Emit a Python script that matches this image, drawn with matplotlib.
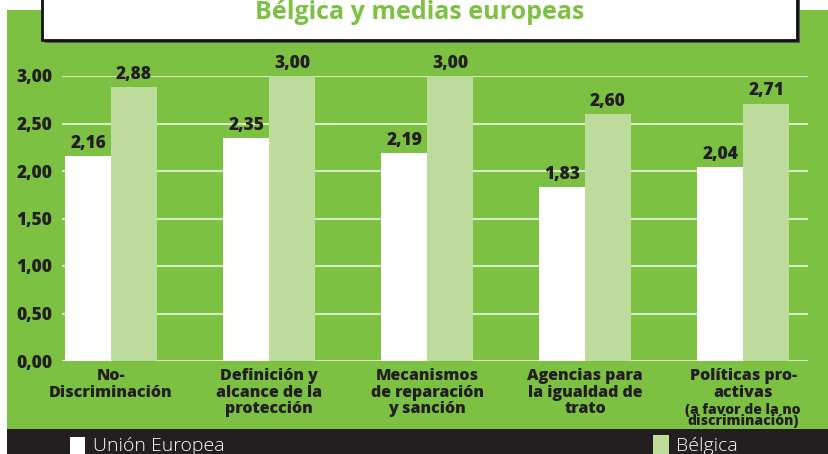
import numpy as np
import matplotlib.pyplot as plt
from matplotlib.patches import Rectangle

# datos
categorias = ["No-\nDiscriminación", "Definición y\nalcance de la\nprotección",
              "Mecanismos\nde reparación\ny sanción", "Agencias para\nla igualdad de\ntrato",
              "Políticas pro-\nactivas"]
nota_ultima = "(a favor de la no\ndiscriminación)"
union_europea = [2.16, 2.35, 2.19, 1.83, 2.04]
belgica = [2.88, 3.00, 3.00, 2.60, 2.71]
yticks = [0, 0.5, 1.0, 1.5, 2.0, 2.5, 3.0]

verde = "#7cc142"
verde_claro = "#bddc9c"
oscuro = "#231f20"
fuente = ["Open Sans", "DejaVu Sans"]

W, H = 829, 454
fig = plt.figure(figsize=(W / 100, H / 100), dpi=100, facecolor="white")

def fx(x):
    return x / W

def fy(y):
    return 1 - y / H

# fondo verde y banda oscura
fig.patches.append(Rectangle((fx(7), 0), 1, fy(10), transform=fig.transFigure,
                             facecolor=verde, edgecolor="none", zorder=-10))
fig.patches.append(Rectangle((fx(7), 0), 1, 25 / H, transform=fig.transFigure,
                             facecolor=oscuro, edgecolor="none", zorder=-9))
# caja del título con sombra
fig.patches.append(Rectangle((fx(45), fy(43)), fx(755), 0.2, transform=fig.transFigure,
                             facecolor="#555555", edgecolor="none", zorder=-8))
fig.patches.append(Rectangle((fx(42), fy(40)), fx(755), 0.2, transform=fig.transFigure,
                             facecolor="white", edgecolor="#111111", lw=2, zorder=-7))
fig.text(fx(420), fy(19), "Bélgica y medias europeas", ha="center", va="baseline",
         color=verde, fontsize=18, fontweight="bold",
         family=["Liberation Sans Narrow", "Open Sans", "DejaVu Sans"], zorder=3)

ax = fig.add_axes([fx(62), fy(361), fx(808 - 62), (361 - 76) / H])
ax.set_zorder(5)
ax.set_facecolor("none")
x = np.arange(len(categorias))
ancho = 0.29
ax.bar(x - ancho / 2, union_europea, ancho, color="white", zorder=3)
ax.bar(x + ancho / 2, belgica, ancho, color=verde_claro, zorder=3)

for xi, v in zip(x - ancho / 2, union_europea):
    ax.annotate(f"{v:.2f}".replace(".", ","), (xi, v), xytext=(0, 3), textcoords="offset points",
                ha="center", va="bottom", fontsize=12.5, fontweight="heavy", color=oscuro,
                family=fuente, annotation_clip=False)
for xi, v in zip(x + ancho / 2, belgica):
    ax.annotate(f"{v:.2f}".replace(".", ","), (xi, v), xytext=(0, 3), textcoords="offset points",
                ha="center", va="bottom", fontsize=12.5, fontweight="heavy", color=oscuro,
                family=fuente, annotation_clip=False)

ax.set_xlim(-0.31, 4.41)
ax.set_ylim(0, 3.0)
ax.set_yticks(yticks)
ax.set_yticklabels([f"{t:.2f}".replace(".", ",") for t in yticks], fontsize=12.5,
                   fontweight="heavy", color=oscuro, family=fuente)
ax.tick_params(axis="y", length=0, pad=7)
ax.set_xticks([])
for t in yticks:
    ax.axhline(t, color="#d6ebc0", lw=1.5, zorder=1)
for s in ax.spines.values():
    s.set_visible(False)

# etiquetas de categoría
for xi, cat in zip(x, categorias):
    ax.annotate(cat, (xi, 0), xycoords=("data", "axes fraction"), xytext=(0, -5),
                textcoords="offset points", ha="center", va="top", fontsize=11.5,
                fontweight="heavy", color=oscuro, family=fuente, linespacing=1.05,
                annotation_clip=False)
ax.annotate(nota_ultima, (x[-1], 0), xycoords=("data", "axes fraction"), xytext=(0, -30),
            textcoords="offset points", ha="center", va="top", fontsize=10,
            fontweight="heavy", color=oscuro, family=fuente, linespacing=0.8,
            annotation_clip=False)

# leyenda
fig.patches.append(Rectangle((fx(70), 0), fx(15), 17 / H, transform=fig.transFigure,
                             facecolor="white", edgecolor="none", zorder=2))
fig.text(fx(93), fy(451), "Unión Europea", color="white", fontsize=14, family=fuente,
         fontweight="light", ha="left", va="baseline")
fig.patches.append(Rectangle((fx(653), 0), fx(16), 19 / H, transform=fig.transFigure,
                             facecolor=verde_claro, edgecolor="none", zorder=2))
fig.text(fx(676), fy(451), "Bélgica", color="white", fontsize=14, family=fuente,
         fontweight="light", ha="left", va="baseline")

fig.savefig("out.png", dpi=100, facecolor="white")
